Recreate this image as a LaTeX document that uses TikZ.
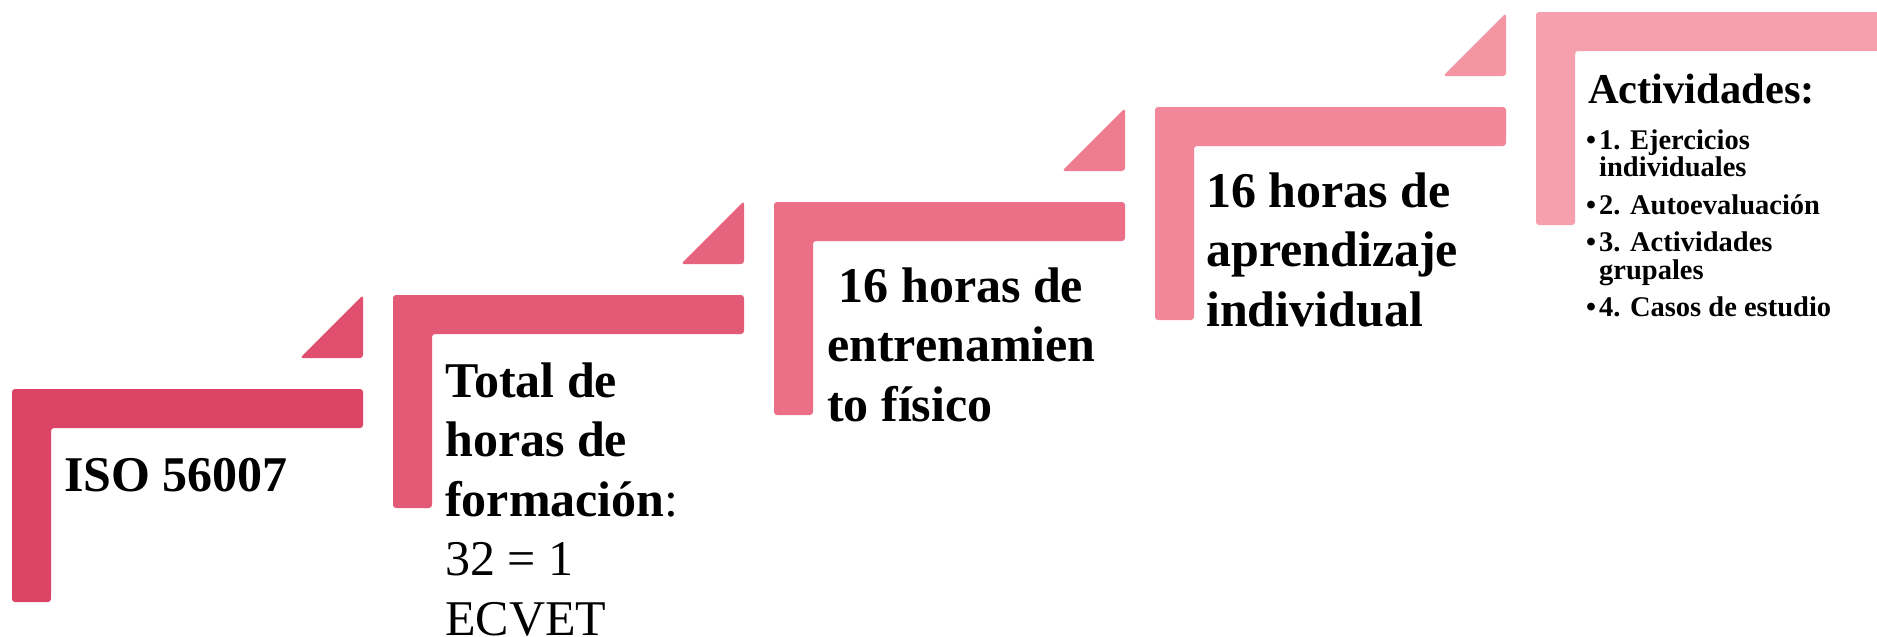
\documentclass[tikz,border=0pt]{standalone}
\usepackage{fontspec}
\setmainfont{Liberation Serif}
\definecolor{sa}{HTML}{DC4466}
\definecolor{ta}{HTML}{E04F6E}
\definecolor{sb}{HTML}{E35A76}
\definecolor{tb}{HTML}{E7647F}
\definecolor{sc}{HTML}{EB6F87}
\definecolor{tc}{HTML}{EF7C91}
\definecolor{sd}{HTML}{F28799}
\definecolor{td}{HTML}{F495A3}
\definecolor{se}{HTML}{F6A0AD}
\newcommand\lshape[3]{\fill[#3, rounded corners=3pt] (#1,#2) -- ++(351,0) -- ++(0,39) -- ++(-312,0) -- ++(0,174) -- ++(-39,0) -- cycle;}
\newcommand\trishape[3]{\fill[#3, rounded corners=3pt] (#1,#2) -- ++(0,-63) -- ++(-63,63) -- cycle;}
\begin{document}
\begin{tikzpicture}[x=1pt,y=-1pt,
  maintext/.style={anchor=base west, inner sep=0pt, font=\fontsize{50}{59.5}\selectfont},
  headtext/.style={anchor=base west, inner sep=0pt, font=\fontsize{42.5}{50}\selectfont\bfseries},
  listtext/.style={anchor=base west, inner sep=0pt, font=\fontsize{28.5}{27.8}\selectfont\bfseries}]
\clip (0,0) rectangle (1877,637);
\fill[white] (0,0) rectangle (1877,637);
% step shapes
\lshape{12}{389}{sa}
\trishape{363}{358}{ta}
\lshape{393}{295}{sb}
\trishape{744}{264}{tb}
\lshape{774}{202}{sc}
\trishape{1125}{171}{tc}
\lshape{1155}{107}{sd}
\trishape{1506}{76}{td}
\fill[se, rounded corners=3pt] (1536,12) -- (1900,12) -- (1900,51) -- (1575,51) -- (1575,225) -- (1536,225) -- cycle;
% texts
\node[maintext] (iso) at (64,491) {\bfseries ISO 56007};
\node[maintext] (total) at (445,397) {\parbox[t]{400pt}{\bfseries Total de\\horas de\\formación\mdseries:\\32 = 1\\ECVET}};
\node[maintext] (fisico) at (827,302) {\parbox[t]{400pt}{\bfseries\hspace*{11.5pt}16 horas de\\entrenamien\\to físico}};
\node[maintext] (indiv) at (1206,207) {\parbox[t]{400pt}{\bfseries 16 horas de\\aprendizaje\\individual}};
\node[headtext] (act) at (1588,103) {Actividades:};
\node[listtext] (lista) at (1586,149) {\parbox[t]{300pt}{\makebox[13pt][l]{•}1. Ejercicios\\\hspace*{13pt}individuales\\[9.5pt]\makebox[13pt][l]{•}2. Autoevaluación\\[9.5pt]\makebox[13pt][l]{•}3. Actividades\\\hspace*{13pt}grupales\\[9.5pt]\makebox[13pt][l]{•}4. Casos de estudio}};
\end{tikzpicture}
\end{document}
